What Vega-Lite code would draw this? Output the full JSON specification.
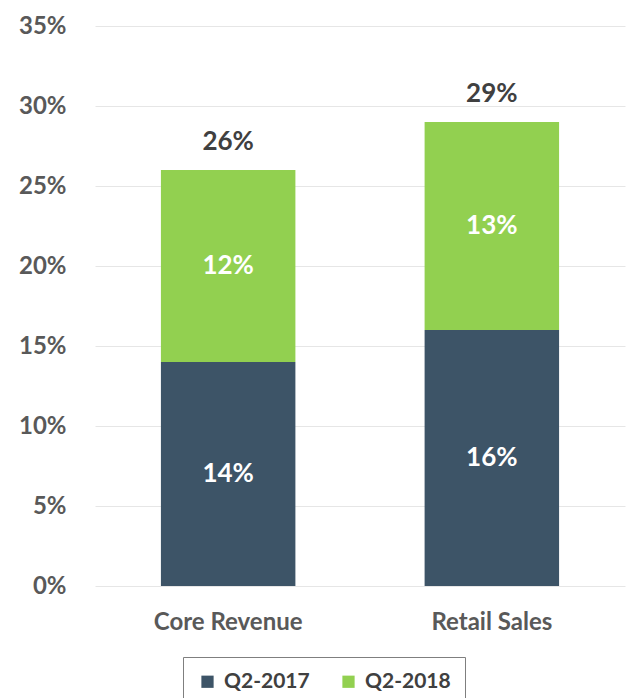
{
  "$schema": "https://vega.github.io/schema/vega-lite/v6.json",
  "width": 530,
  "height": 560,
  "padding": {"left": 18, "top": 14, "right": 2, "bottom": 0},
  "autosize": {"type": "pad"},
  "config": {"view": {"stroke": null}, "font": "Lato"},
  "data": {
    "values": [
      {"category": "Core Revenue", "series": "Q2-2017", "value": 0.14},
      {"category": "Core Revenue", "series": "Q2-2018", "value": 0.12},
      {"category": "Retail Sales", "series": "Q2-2017", "value": 0.16},
      {"category": "Retail Sales", "series": "Q2-2018", "value": 0.13}
    ]
  },
  "encoding": {
    "x": {
      "field": "category",
      "type": "nominal",
      "scale": {"paddingInner": 0.49, "paddingOuter": 0.25},
      "axis": {
        "title": null,
        "labelAngle": 0,
        "domain": false,
        "ticks": false,
        "labelFontSize": 24,
        "labelFontWeight": "bold",
        "labelColor": "#595959",
        "labelPadding": 24
      }
    }
  },
  "layer": [
    {
      "mark": {"type": "bar"},
      "encoding": {
        "y": {
          "field": "value",
          "type": "quantitative",
          "stack": "zero",
          "scale": {"domain": [0, 0.35], "nice": false},
          "axis": {
            "title": null,
            "values": [0, 0.05, 0.1, 0.15, 0.2, 0.25, 0.3, 0.35],
            "format": ".0%",
            "domain": false,
            "ticks": false,
            "grid": true,
            "gridColor": "#e6e6e6",
            "labelFontSize": 24,
            "labelFontWeight": "bold",
            "labelColor": "#595959",
            "labelPadding": 29
          }
        },
        "order": {"field": "series", "sort": "ascending"},
        "color": {
          "field": "series",
          "type": "nominal",
          "scale": {"range": ["#3d5467", "#92d050"]},
          "legend": {
            "title": null,
            "orient": "none",
            "legendX": 88,
            "legendY": 631,
            "direction": "horizontal",
            "symbolType": "square",
            "symbolSize": 150,
            "symbolStrokeWidth": 0,
            "labelFontSize": 21,
            "labelFontWeight": "bold",
            "labelColor": "#404040",
            "labelOffset": 6,
            "strokeColor": "#7f7f7f",
            "padding": 14,
            "columnPadding": 28
          }
        }
      }
    },
    {
      "transform": [
        {"stack": "value", "groupby": ["category"], "sort": [{"field": "series"}], "as": ["v0", "v1"]},
        {"calculate": "(datum.v0 + datum.v1) / 2", "as": "mid"}
      ],
      "mark": {"type": "text", "color": "white", "fontSize": 26, "fontWeight": "bold"},
      "encoding": {
        "y": {"field": "mid", "type": "quantitative"},
        "text": {"field": "value", "type": "quantitative", "format": ".0%"}
      }
    },
    {
      "mark": {"type": "text", "color": "#404040", "fontSize": 26, "fontWeight": "bold", "dy": -28},
      "encoding": {
        "y": {"aggregate": "sum", "field": "value", "type": "quantitative"},
        "text": {"aggregate": "sum", "field": "value", "type": "quantitative", "format": ".0%"}
      }
    }
  ]
}
